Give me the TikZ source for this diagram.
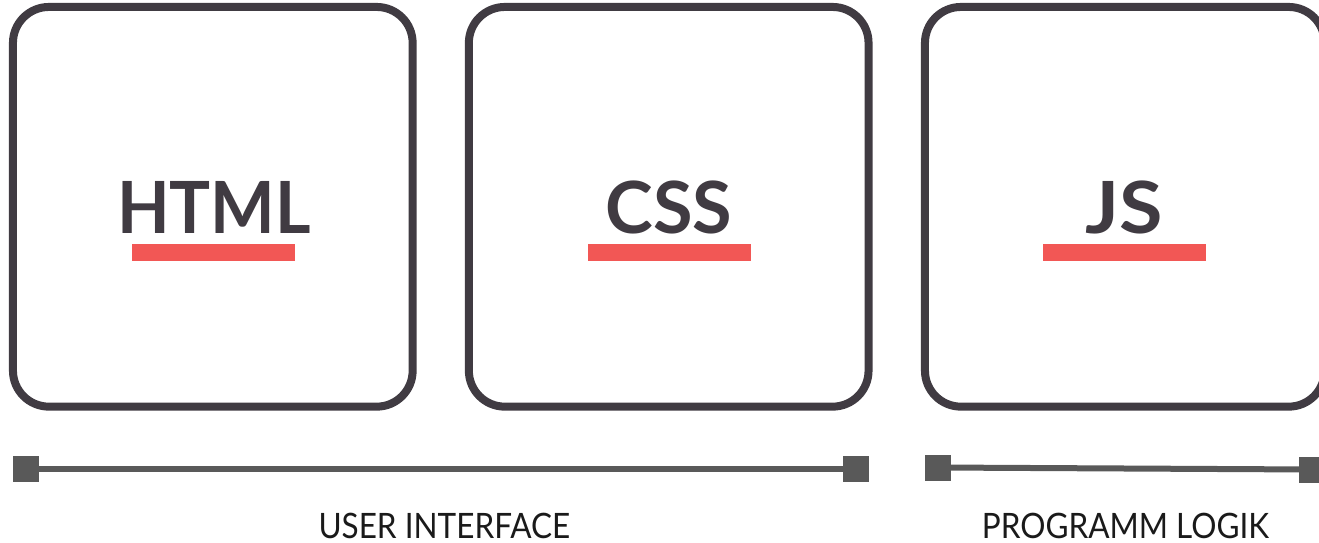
\documentclass[tikz,border=0pt]{standalone}
\usepackage{fontspec}
\setmainfont{Lato}
\newfontfamily\spanfont[FakeStretch=0.9]{Lato}
\newfontfamily\narrowbold[FakeStretch=0.95]{Lato}
\newfontfamily\widebold[FakeStretch=1.1]{Lato}
\definecolor{boxgray}{HTML}{403B42}
\definecolor{barred}{HTML}{F25755}
\definecolor{linegray}{HTML}{595959}
\definecolor{labelblack}{HTML}{1A1A1A}
\begin{document}
\begin{tikzpicture}[x=1pt,y=-1pt,
  techbox/.style={draw=boxgray,line width=8pt,rounded corners=36pt,minimum width=399.7pt,minimum height=399.7pt,inner sep=0pt},
  techlabel/.style={anchor=base,text=boxgray,font=\fontsize{72}{72}\selectfont\bfseries,inner sep=0pt},
  redbar/.style={fill=barred,minimum width=163.3pt,minimum height=17pt,inner sep=0pt},
  endsq/.style={fill=linegray,minimum size=26pt,inner sep=0pt,outer sep=0pt},
  spanline/.style={draw=linegray,line width=6pt},
  spanlabel/.style={anchor=base,text=labelblack,font=\spanfont\fontsize{35}{35}\selectfont,inner sep=0pt}]
\useasboundingbox (0,0) rectangle (1319,543);
% boxes
\node[techbox] (bhtml) at (212.8,206.8) {};
\node[techbox] (bcss) at (668.7,206.8) {};
\node[techbox] (bjs) at (1124.8,206.8) {};
% labels
\node[techlabel,font=\narrowbold\fontsize{72}{72}\selectfont\bfseries] (thtml) at (214,233) {HTML};
\node[techlabel] (tcss) at (668.7,233) {CSS};
\node[techlabel,font=\widebold\fontsize{72}{72}\selectfont\bfseries] (tjs) at (1124.3,233) {JS};
% bars
\node[redbar] (rhtml) at (213.5,252.5) {};
\node[redbar] (rcss) at (669.3,252.5) {};
\node[redbar] (rjs) at (1124.3,252.5) {};
% span lines
\node[endsq] (s1a) at (26,469) {};
\node[endsq] (s1b) at (856.3,469) {};
\node[endsq] (s2a) at (937.8,467.5) {};
\node[endsq] (s2b) at (1312,469.5) {};
\draw[spanline] (s1a) -- (s1b);
\draw[spanline] (s2a) -- (s2b);
\node[spanlabel] (lui) at (444.3,538.5) {USER INTERFACE};
\node[spanlabel] (lpl) at (1125.5,538.5) {PROGRAMM LOGIK};
\end{tikzpicture}
\end{document}
